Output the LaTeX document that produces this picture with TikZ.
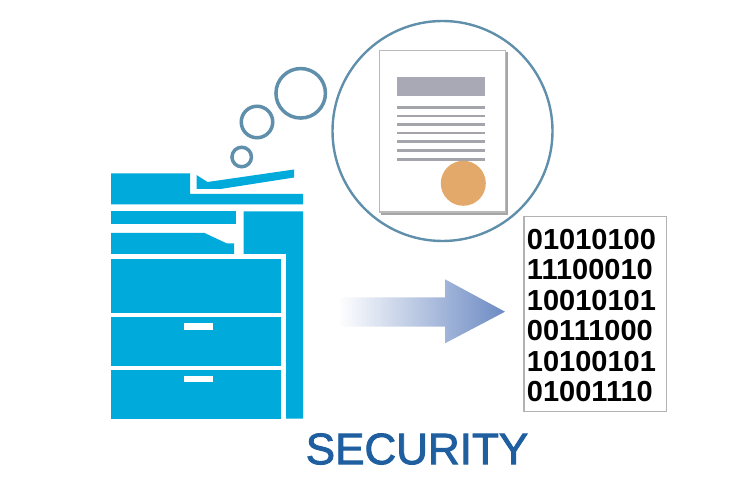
\documentclass[tikz,border=0pt]{standalone}
\usepackage{fontspec}
\setmainfont{Liberation Sans}
\usetikzlibrary{shapes}
\definecolor{copierblue}{HTML}{00AADB}
\definecolor{ringblue}{HTML}{5F8FAB}
\definecolor{titlegray}{HTML}{A9A9B6}
\definecolor{linegray}{HTML}{A3A5AA}
\definecolor{sealorange}{HTML}{E3A96B}
\definecolor{arrowblue}{HTML}{6C8AC3}
\definecolor{wordblue}{HTML}{1F5FA0}
\begin{document}
\begin{tikzpicture}[x=1bp,y=-1bp,
    part/.style={fill=copierblue},
    drawer/.style={part,draw=none},
    handle/.style={fill=white},
    bubble/.style={circle,draw=ringblue,line width=3.5bp,inner sep=0pt},
    textline/.style={draw=linegray,line width=2.8bp}]
    \useasboundingbox (0,0) rectangle (750,488);
    % copier
    \fill[part] (111,173.5) -- (190,173.5) -- (190,194) -- (303,194) -- (303,204.5) -- (111,204.5) -- cycle;
    \fill[part] (196.5,175) -- (207.5,182) -- (294,169.5) -- (294,177.5) -- (220.5,189) -- (196.5,189) -- cycle;
    \fill[part] (111,211.5) rectangle (236,224.5);
    \fill[part] (111,233) -- (204.5,233) -- (227,243.5) -- (234,243.5) -- (234,254) -- (111,254) -- cycle;
    \fill[part] (243.5,211.5) -- (303,211.5) -- (303,418.5) -- (286,418.5) -- (286,254) -- (243.5,254) -- cycle;
    \fill[drawer] (111,259) rectangle (281,312.5);
    \fill[drawer] (111,316.5) rectangle (281,365.5);
    \fill[drawer] (111,369.5) rectangle (281,418.5);
    \fill[handle] (184.3,323.3) rectangle (212.7,329.7);
    \fill[handle] (184.3,376) rectangle (212.7,382.3);
    % thought bubbles
    \node[bubble,minimum size=19.5bp] (b1) at (241.7,157) {};
    \node[bubble,minimum size=31.5bp] (b2) at (257,122) {};
    \node[bubble,minimum size=49.5bp] (b3) at (300.7,93.3) {};
    \node[bubble,line width=2.4bp,minimum size=220bp] (ring) at (442.5,131) {};
    % document
    \fill[gray!70] (381,52) rectangle (508,215);
    \draw[fill=white,draw=gray!55,line width=1.6bp] (379.5,50.5) rectangle (505.5,212);
    \fill[titlegray] (397.3,76.7) rectangle (485,95.7);
    \foreach \ypos in {107.3,116,124.7,133,141.7,150.3,159.3}
        \draw[textline] (397.3,\ypos) -- (485,\ypos);
    \node[circle,fill=sealorange,minimum size=45bp,inner sep=0pt] (seal) at (463.3,183.3) {};
    % arrow
    \path[left color=white,right color=arrowblue,shading angle=90]
        (338,297.3) -- (445,297.3) -- (445,279.3) -- (505,311.7) -- (445,343.3) -- (445,326.7) -- (338,326.7) -- cycle;
    % binary sheet
    \node[draw=gray!60,line width=1.5bp,fill=white,minimum width=142.5bp,minimum height=195bp,inner sep=0pt] (sheet) at (595.3,314.2) {};
    \node[font=\fontsize{29bp}{30.4bp}\selectfont\bfseries,align=left,inner sep=0pt] (bits) at (591.5,315.5)
        {01010100\\11100010\\10010101\\00111000\\10100101\\01001110};
    \node[font=\fontsize{44bp}{50bp}\selectfont\addfontfeature{FakeBold=2},text=wordblue,inner sep=0pt] (word) at (417,449) {SECURITY};
\end{tikzpicture}
\end{document}
